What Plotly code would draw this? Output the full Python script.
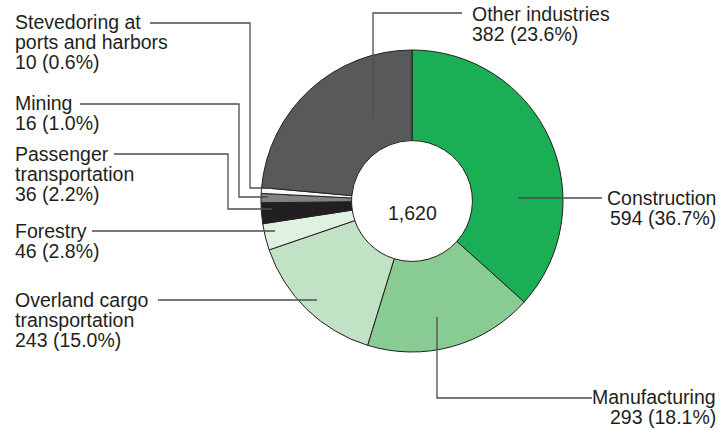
import plotly.graph_objects as go

# Industry breakdown, listed clockwise from 12 o'clock
industries = ["Construction", "Manufacturing", "Overland cargo transportation", "Forestry",
              "Passenger transportation", "Mining", "Stevedoring at ports and harbors",
              "Other industries"]
counts = [594, 293, 243, 46, 36, 16, 10, 382]
slice_colors = ["#1aaf54", "#88cb93", "#c1e2c5", "#e0f0e1",
                "#231f20", "#808285", "#f7f7f7", "#58595b"]

# Label text split into lines as printed beside the ring
label_lines = [
    ["Construction"],
    ["Manufacturing"],
    ["Overland cargo", "transportation"],
    ["Forestry"],
    ["Passenger", "transportation"],
    ["Mining"],
    ["Stevedoring at", "ports and harbors"],
    ["Other industries"],
]

W, H = 720, 430
CX, CY, R = 412, 201, 151
FONT = "Liberation Sans, Arial, Helvetica, sans-serif"
FS = 19.5
LINE_H = 19.8
TXT = "#231f20"
LEADER = "#4d4d4f"

total = sum(counts)

# Label block placement: (x, y of first line centre, anchor) in pixels
label_pos = [
    (718, 198, "right"),
    (718, 397, "right"),
    (13, 300, "left"),
    (13, 231, "left"),
    (13, 154, "left"),
    (13, 103, "left"),
    (13, 22, "left"),
    (470, 14, "left"),
]

# Leader line polylines in pixels
leaders = [
    [(518, 198), (602, 198)],
    [(437, 317), (437, 398), (592, 398)],
    [(158, 300), (317, 300)],
    [(92, 231), (275, 231)],
    [(114, 154), (228, 154), (228, 209), (272, 209)],
    [(80, 104), (239, 104), (239, 197), (268, 197)],
    [(150, 23), (250, 23), (250, 188), (272, 188)],
    [(373, 118), (373, 13), (462, 13)],
]


def px(x):
    return x / W


def py(y):
    return 1 - y / H


fig = go.Figure(go.Pie(
    labels=industries,
    values=counts,
    sort=False,
    direction="clockwise",
    rotation=0,
    hole=0.4,
    marker=dict(colors=slice_colors, line=dict(color="#231f20", width=1)),
    textinfo="none",
    hoverinfo="label+value+percent",
    showlegend=False,
    domain=dict(x=[px(CX - R), px(CX + R)], y=[py(CY + R), py(CY - R)]),
))

annotations = []
for lines, value, (x, y, anchor) in zip(label_lines, counts, label_pos):
    all_lines = lines + [f"{value} ({value / total * 100:.1f}%)"]
    for i, line in enumerate(all_lines):
        annotations.append(dict(
            x=px(x), y=py(y + i * LINE_H), xref="paper", yref="paper",
            text=line, showarrow=False, xanchor=anchor, yanchor="middle",
            font=dict(family=FONT, size=FS, color=TXT),
        ))

annotations.append(dict(
    x=px(CX), y=py(CY + 12), xref="paper", yref="paper",
    text=f"{total:,}", showarrow=False, xanchor="center", yanchor="middle",
    font=dict(family=FONT, size=FS, color=TXT),
))

shapes = []
for pts in leaders:
    path = "M " + " L ".join(f"{px(x):.5f},{py(y):.5f}" for x, y in pts)
    shapes.append(dict(type="path", path=path, xref="paper", yref="paper",
                       line=dict(color=LEADER, width=1.3)))

fig.update_layout(
    width=W, height=H,
    margin=dict(l=0, r=0, t=0, b=0),
    paper_bgcolor="white", plot_bgcolor="white",
    annotations=annotations,
    shapes=shapes,
)

fig.write_html("out.html")
